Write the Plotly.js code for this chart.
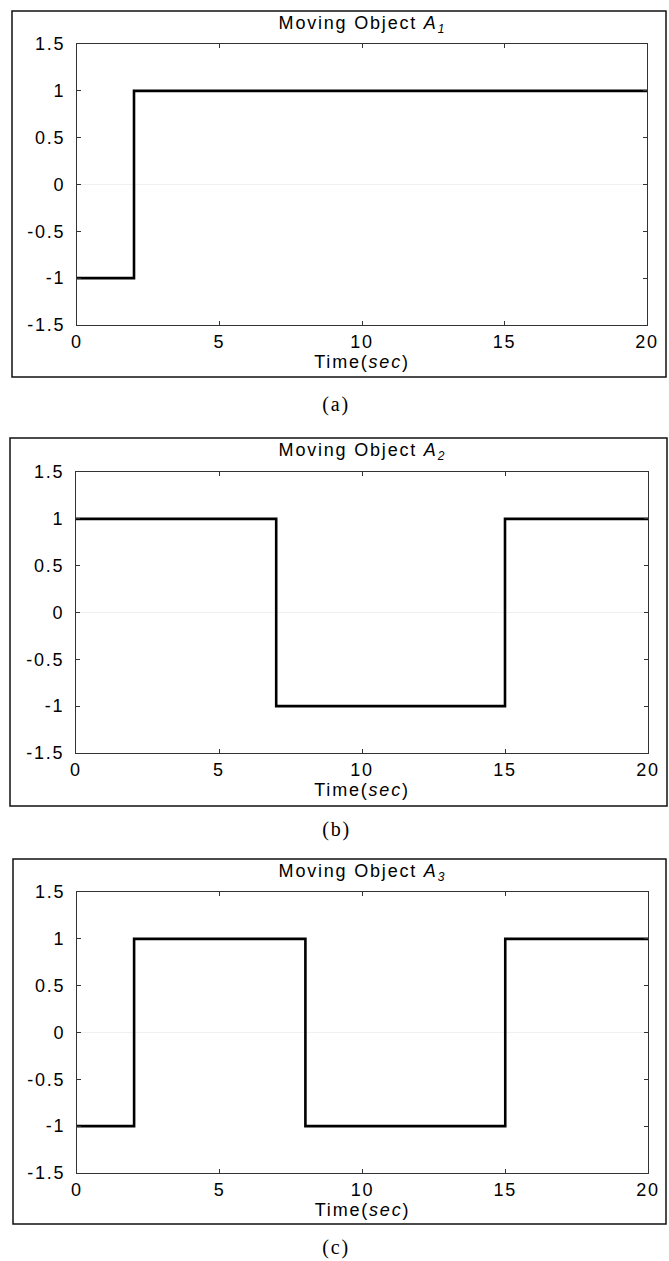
<!DOCTYPE html>
<html>
<head>
<meta charset="utf-8">
<script src="https://cdn.plot.ly/plotly-3.0.1.min.js"></script>
<style>
html,body{margin:0;padding:0;background:#fff;}
#chart{width:669px;height:1261px;}
#chart svg text{letter-spacing:1.8px;}
</style>
</head>
<body>
<div id="chart"></div>
<script>
// Data
const timeA1 = [0, 2, 20];
const stateA1 = [-1, 1, 1];
const timeA2 = [0, 7, 15, 20];
const stateA2 = [1, -1, 1, 1];
const timeA3 = [0, 2, 8, 15, 20];
const stateA3 = [-1, 1, -1, 1, 1];

const xTickVals = [0, 5, 10, 15, 20];
const xTickText = ['0', '5', '10', '15', '20'];
const yTickVals = [1.5, 1, 0.5, 0, -0.5, -1, -1.5];
const yTickText = ['1.5', '1', '0.5', '0', '-0.5', '-1', '-1.5'];

const fs = 18;
const it = (t, size) => '<span style="font-style:italic;font-size:' + size + 'px">' + t + '</span>';
const panelTitles = ['1', '2', '3'].map(n => 'Moving Object ' + it('A', fs) + '<sub>' + it(n, 12) + '</sub>');
const captions = ['(a)', '(b)', '(c)'];
const xLabel = 'Time(' + it('sec', fs) + ')';

const W = 669, H = 1261;
const py = v => 1 - v / H;
const px = v => v / W;

// panel geometry in pixels
const panels = [
  {plotTop: 44, plotBot: 325, plotL: 77, plotR: 647, frame: [12, 11, 666, 377], cap: 405},
  {plotTop: 472, plotBot: 753, plotL: 76, plotR: 648, frame: [10, 438, 667, 806], cap: 829},
  {plotTop: 892, plotBot: 1173, plotL: 77, plotR: 648, frame: [13, 859, 666, 1224], cap: 1247}
];

const series = [[timeA1, stateA1], [timeA2, stateA2], [timeA3, stateA3]];
const font = 'Arial, "Liberation Sans", sans-serif';

const data = series.map((s, i) => ({
  x: s[0], y: s[1], type: 'scatter', mode: 'lines',
  line: {shape: 'hv', color: '#000', width: 2.6},
  xaxis: i === 0 ? 'x' : 'x' + (i + 1),
  yaxis: i === 0 ? 'y' : 'y' + (i + 1),
  hoverinfo: 'skip', showlegend: false
}));

const layout = {
  width: W, height: H,
  margin: {l: 0, r: 0, t: 0, b: 0},
  paper_bgcolor: '#fff', plot_bgcolor: '#fff',
  font: {family: font, size: fs, color: '#000'},
  showlegend: false,
  shapes: [], annotations: []
};

panels.forEach((p, i) => {
  const sx = i === 0 ? '' : String(i + 1);
  layout['xaxis' + sx] = {
    domain: [px(p.plotL), px(p.plotR)],
    anchor: 'y' + sx,
    range: [0, 20], tickvals: xTickVals, ticktext: xTickText,
    title: {text: xLabel, font: {family: font, size: fs, color: '#000'}, standoff: 2},
    showgrid: false, zeroline: false,
    showline: true, mirror: 'ticks', linecolor: '#333', linewidth: 1,
    ticks: 'inside', ticklen: 4, tickcolor: '#333',
    tickfont: {family: font, size: fs, color: '#000'},
    ticklabelstandoff: 0, fixedrange: true
  };
  layout['yaxis' + sx] = {
    domain: [py(p.plotBot), py(p.plotTop)],
    anchor: 'x' + sx,
    range: [-1.5, 1.5], tickvals: yTickVals, ticktext: yTickText,
    showgrid: false, zeroline: true, zerolinecolor: '#f0f0f0', zerolinewidth: 1,
    showline: true, mirror: 'ticks', linecolor: '#333', linewidth: 1,
    ticks: 'inside', ticklen: 4, tickcolor: '#333',
    tickfont: {family: font, size: fs, color: '#000'},
    ticklabelstandoff: 7, fixedrange: true
  };
  layout.shapes.push({
    type: 'rect', xref: 'paper', yref: 'paper',
    x0: px(p.frame[0]), x1: px(p.frame[2]), y0: py(p.frame[3]), y1: py(p.frame[1]),
    line: {color: '#111', width: 1.5}, fillcolor: 'rgba(0,0,0,0)', layer: 'below'
  });
  const cx = px((p.plotL + p.plotR) / 2);
  layout.annotations.push({
    text: panelTitles[i], xref: 'paper', yref: 'paper',
    x: cx, y: py(p.frame[1] + 13), xanchor: 'center', yanchor: 'middle',
    showarrow: false, font: {family: font, size: fs, color: '#000'}
  });
  layout.annotations.push({
    text: captions[i], xref: 'paper', yref: 'paper',
    x: px(336), y: py(p.cap), xanchor: 'center', yanchor: 'middle',
    showarrow: false, font: {family: '"Liberation Serif", "Times New Roman", serif', size: 20, color: '#000'}
  });
});

Plotly.newPlot('chart', data, layout, {staticPlot: true, displayModeBar: false});
</script>
</body>
</html>
